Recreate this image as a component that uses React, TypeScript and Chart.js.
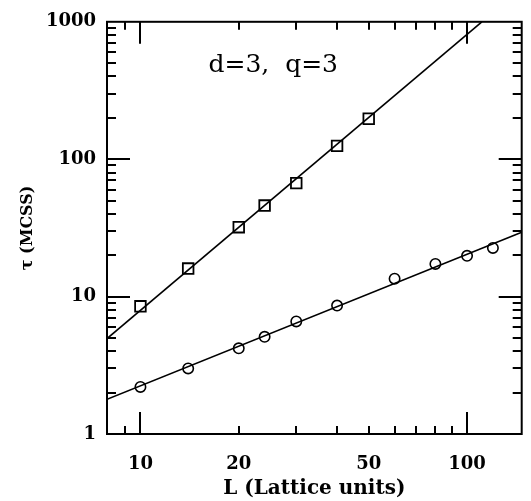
import React, { useEffect, useRef } from 'react';
import { Chart, registerables } from 'chart.js';

Chart.register(...registerables);

// Data (log-log)
const squareL = [10, 14, 20, 24, 30, 40, 50];
const squareTau = [8.5, 16, 32, 46, 67, 125, 197];
const circleL = [10, 14, 20, 24, 30, 40, 60, 80, 100, 120];
const circleTau = [2.2, 3.0, 4.2, 5.1, 6.6, 8.6, 13.5, 17.3, 19.8, 22.6];
const fitUpperL = [7.9, 111];
const fitUpperTau = [4.95, 1000];
const fitLowerL = [7.9, 147];
const fitLowerTau = [1.79, 29.4];

const xTickLabels = [10, 20, 50, 100];
const yTickLabels = [1, 10, 100, 1000];
const xMajor = [10, 100];
const xMinor = [8, 9, 20, 30, 40, 50, 60, 70, 80, 90];
const yMajor = [1, 10, 100, 1000];
const yMinor = [2, 3, 4, 5, 6, 7, 8, 9, 20, 30, 40, 50, 60, 70, 80, 90, 200, 300, 400, 500, 600, 700, 800, 900];

const noteText = 'd=3,  q=3';
const noteL = 25.5;
const noteTau = 480;

const toPts = (xs: number[], ys: number[]) => xs.map((x, i) => ({ x, y: ys[i] }));

const framePlugin = {
  id: 'frame',
  afterDraw(chart: any) {
    const { ctx, chartArea: a, scales } = chart;
    const x = scales.x;
    const y = scales.y;
    ctx.save();
    ctx.strokeStyle = '#000';
    ctx.lineWidth = 2;
    ctx.strokeRect(a.left, a.top, a.right - a.left, a.bottom - a.top);
    const seg = (x1: number, y1: number, x2: number, y2: number) => {
      ctx.beginPath();
      ctx.moveTo(x1, y1);
      ctx.lineTo(x2, y2);
      ctx.stroke();
    };
    const drawX = (vals: number[], len: number) => {
      vals.forEach((v) => {
        const px = Math.round(x.getPixelForValue(v));
        if (px <= a.left + 2 || px >= a.right - 2) return;
        seg(px, a.bottom, px, a.bottom - len);
        seg(px, a.top, px, a.top + len);
      });
    };
    const drawY = (vals: number[], len: number) => {
      vals.forEach((v) => {
        const py = Math.round(y.getPixelForValue(v));
        if (py <= a.top + 2 || py >= a.bottom - 2) return;
        seg(a.left, py, a.left + len, py);
        seg(a.right, py, a.right - len, py);
      });
    };
    drawX(xMajor, 22);
    drawX(xMinor, 8);
    drawY(yMajor, 23);
    drawY(yMinor, 9);

    ctx.fillStyle = '#000';
    ctx.font = '25px "DejaVu Serif"';
    ctx.textAlign = 'center';
    ctx.textBaseline = 'middle';
    ctx.fillText(noteText, x.getPixelForValue(noteL), y.getPixelForValue(noteTau));
    ctx.restore();
  },
};

export default function App() {
  const ref = useRef<HTMLCanvasElement>(null);
  useEffect(() => {
    if (!ref.current) return;
    const chart = new Chart(ref.current, {
      type: 'scatter',
      data: {
        datasets: [
          {
            data: toPts(fitUpperL, fitUpperTau),
            showLine: true,
            borderColor: '#000',
            borderWidth: 1.6,
            pointRadius: 0,
          },
          {
            data: toPts(fitLowerL, fitLowerTau),
            showLine: true,
            borderColor: '#000',
            borderWidth: 1.6,
            pointRadius: 0,
          },
          {
            data: toPts(squareL, squareTau),
            pointStyle: 'rect',
            pointRadius: 7.5,
            borderColor: '#000',
            backgroundColor: 'rgba(0,0,0,0)',
            pointBorderWidth: 1.8,
          },
          {
            data: toPts(circleL, circleTau),
            pointStyle: 'circle',
            pointRadius: 5.2,
            borderColor: '#000',
            backgroundColor: 'rgba(0,0,0,0)',
            pointBorderWidth: 1.6,
          },
        ],
      } as any,
      options: {
        animation: false,
        responsive: false,
        maintainAspectRatio: false,
        layout: { padding: { left: 0, right: 8, top: 17, bottom: 0 } },
        plugins: { legend: { display: false }, tooltip: { enabled: false } },
        scales: {
          x: {
            type: 'logarithmic',
            min: 7.9,
            max: 147,
            grid: { display: false, drawTicks: false },
            border: { display: false },
            afterBuildTicks: (s: any) => {
              s.ticks = xTickLabels.map((v) => ({ value: v }));
            },
            afterFit: (s: any) => {
              s.height = 67;
            },
            ticks: {
              autoSkip: false,
              maxRotation: 0,
              padding: 20,
              color: '#000',
              font: { family: '"DejaVu Serif"', size: 18, weight: 'bold' },
              callback: (v: any) => String(v),
            },
            title: {
              display: true,
              text: 'L (Lattice units)',
              color: '#000',
              font: { family: '"DejaVu Serif"', size: 20, weight: 'bold' },
              padding: { top: 0, bottom: 0 },
            },
          },
          y: {
            type: 'logarithmic',
            min: 1,
            max: 1000,
            grid: { display: false, drawTicks: false },
            border: { display: false },
            afterBuildTicks: (s: any) => {
              s.ticks = yTickLabels.map((v) => ({ value: v }));
            },
            afterFit: (s: any) => {
              s.width = 107;
            },
            ticks: {
              autoSkip: false,
              padding: 11,
              color: '#000',
              font: { family: '"DejaVu Serif"', size: 18, weight: 'bold' },
              callback: (v: any) => String(v),
            },
            title: {
              display: true,
              text: 'τ (MCSS)',
              color: '#000',
              font: { family: '"DejaVu Serif"', size: 16, weight: 'bold' },
              padding: { top: 18, bottom: 0 },
            },
          },
        },
      } as any,
      plugins: [framePlugin],
    });
    return () => chart.destroy();
  }, []);
  return (
    <canvas
      ref={ref}
      width={531}
      height={501}
      style={{ position: 'absolute', left: 0, top: 0, width: 531, height: 501 }}
    />
  );
}
